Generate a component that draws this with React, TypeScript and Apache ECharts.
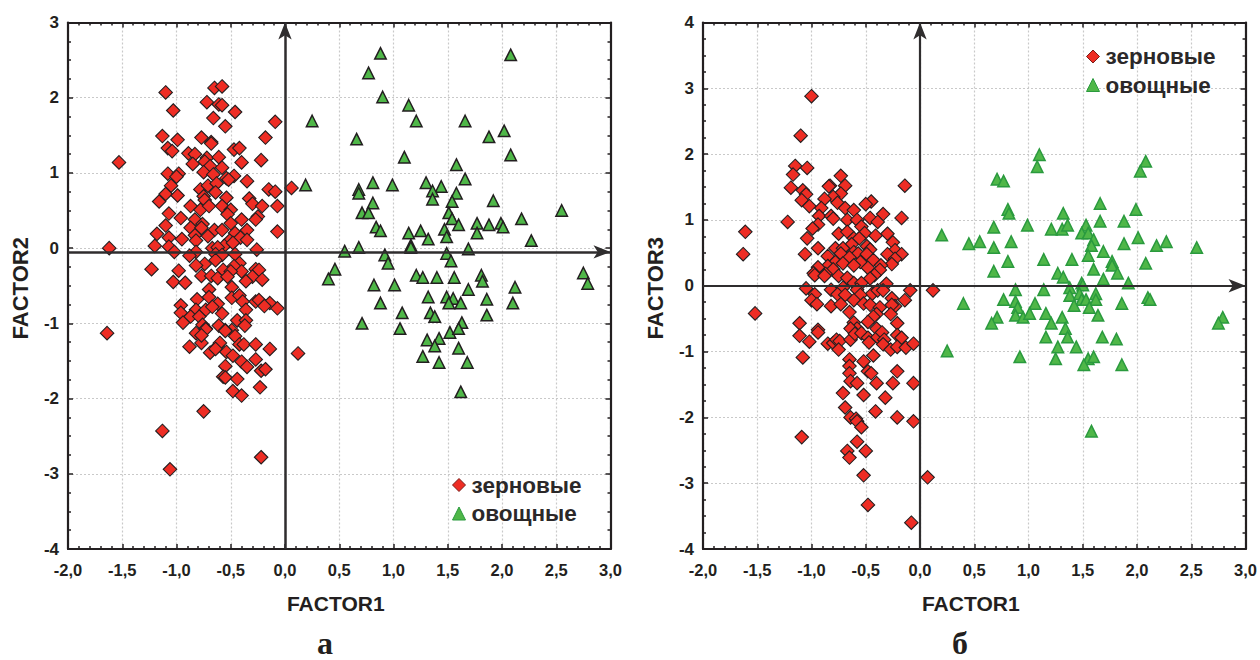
import React, { useEffect, useRef } from "react";
import * as echarts from "echarts";

const grainA: number[][] = [
[-1.62,0],[-1.53,1.14],[-1.10,2.07],[-1.03,1.83],[-0.65,2.13],[-0.58,2.15],[-0.72,1.94],[-0.61,1.91],[-0.58,1.90],[-0.46,1.81],[-0.66,1.73],[-0.55,1.62],[-0.09,1.68],[-1.13,1.49],[-0.99,1.44],[-0.77,1.47],[-0.68,1.41],[-0.68,1.39],[-0.18,1.47],[-1.08,1.33],[-1.04,1.29],[-0.89,1.26],[-0.83,1.25],[-0.47,1.31],[-0.42,1.33],[-0.22,1.17],[-0.85,1.12],[-0.72,1.20],[-0.61,1.21],[-0.74,1.15],[-0.69,1.09],[-0.58,1.07],[-0.40,1.14],[-1.08,0.99],[-0.98,0.99],[-1.00,0.95],[-0.75,1.01],[-0.66,0.98],[-0.54,0.93],[-0.47,0.96],[-0.52,0.91],[-0.35,0.89],[-1.05,0.83],[-1.10,0.72],[-0.99,0.70],[-1.16,0.62],[-0.78,0.78],[-0.71,0.83],[-0.63,0.86],[-0.64,0.74],[-0.75,0.69],[-0.74,0.64],[-0.15,0.78],[-0.09,0.75],[0.06,0.80],[-0.54,0.67],[-0.33,0.66],[-0.30,0.59],[-0.21,0.56],[-0.07,0.56],[-0.87,0.56],[-0.78,0.51],[-0.70,0.56],[-0.58,0.56],[-0.50,0.51],[-0.53,0.45],[-1.07,0.46],[-0.96,0.40],[-0.83,0.38],[-0.25,0.42],[-0.27,0.38],[-0.40,0.38],[-0.50,0.33],[-0.76,0.32],[-1.10,0.30],[-0.87,0.27],[-0.77,0.27],[-0.07,0.22],[-0.35,0.24],[-0.65,0.24],[-0.58,0.24],[-1.18,0.19],[-0.46,0.20],[-0.83,0.17],[-0.71,0.16],[-1.07,0.14],[-0.95,0.12],[-0.82,0.10],[-0.41,0.14],[-0.35,0.11],[-0.51,0.10],[-1.20,0.03],[-1.07,0.02],[-0.56,0.03],[-0.67,0],[-0.62,0.01],[-0.48,0.07],[-0.26,-0.02],[-1.02,-0.05],[-0.82,-0.05],[-0.88,-0.10],[-0.64,-0.08],[-0.58,-0.09],[-0.46,-0.08],[-0.64,-0.16],[-0.74,-0.21],[-0.82,-0.23],[-0.42,-0.20],[-0.47,-0.24],[-1.23,-0.28],[-0.98,-0.30],[-0.57,-0.29],[-0.40,-0.31],[-0.50,-0.31],[-0.77,-0.37],[-0.68,-0.37],[-0.27,-0.28],[-0.24,-0.29],[-0.62,-0.40],[-0.53,-0.38],[-0.30,-0.38],[-0.21,-0.42],[-0.36,-0.44],[-1.03,-0.45],[-0.92,-0.46],[-0.70,-0.55],[-0.49,-0.52],[-0.81,-0.68],[-0.70,-0.65],[-0.49,-0.66],[-0.42,-0.63],[-0.27,-0.71],[-0.24,-0.69],[-0.14,-0.73],[-0.07,-0.80],[-0.19,-0.77],[-0.96,-0.76],[-0.62,-0.74],[-0.39,-0.71],[-0.82,-0.82],[-0.73,-0.82],[-0.67,-0.78],[-0.36,-0.82],[-0.96,-0.86],[-0.58,-0.87],[-0.87,-0.91],[-0.79,-0.91],[-0.94,-0.99],[-0.44,-0.96],[-0.36,-0.96],[-0.76,-1.02],[-0.61,-1.03],[-0.73,-1.07],[-0.37,-1.03],[-0.49,-1.09],[-0.55,-1.09],
[-1.64,-1.13],[-0.82,-1.13],[-0.73,-1.08],[-0.55,-1.10],[-0.77,-1.26],[-0.77,-1.16],[-0.88,-1.31],[-0.69,-1.39],[-0.62,-1.30],[-0.60,-1.26],[-0.64,-1.34],[-0.54,-1.38],[-0.46,-1.17],[-0.42,-1.28],[-0.38,-1.28],[-0.27,-1.28],[-0.14,-1.34],[0.12,-1.40],[-0.48,-1.43],[-0.27,-1.48],[-0.40,-1.51],[-0.35,-1.58],[-0.55,-1.57],[-0.22,-1.63],[-0.18,-1.61],[-0.57,-1.71],[-0.55,-1.72],[-0.44,-1.74],[-0.23,-1.85],[-0.48,-1.90],[-0.40,-1.96],[-0.75,-2.17],[-1.13,-2.43],[-1.06,-2.94],[-0.22,-2.78]
];

const vegA: number[][] = [
[0.88,2.59],[2.08,2.57],[0.77,2.33],[0.90,2.01],[1.14,1.90],[0.25,1.69],[1.21,1.69],[1.66,1.69],[2.02,1.56],[1.88,1.48],[0.66,1.45],[2.08,1.24],[1.10,1.21],[1.58,1.11],[1.66,0.92],[0.19,0.84],[0.68,0.78],[0.68,0.73],[0.81,0.87],[0.99,0.84],[1.30,0.87],[1.44,0.82],[1.36,0.76],[1.36,0.65],[1.58,0.73],[1.54,0.62],[1.92,0.63],[0.81,0.60],[2.55,0.50],[0.71,0.47],[0.77,0.47],[1.51,0.47],[1.54,0.39],[2.18,0.39],[1.77,0.33],[1.60,0.31],[1.88,0.31],[1.99,0.33],[2.01,0.28],[0.84,0.28],[0.88,0.23],[1.14,0.20],[1.25,0.23],[1.47,0.25],[1.77,0.20],[1.32,0.12],[1.49,0.15],[2.27,0.10],[1.16,0.04],[1.16,0.01],[0.68,0.01],[0.55,-0.04],[1.49,-0.07],[1.69,-0.01],[0.92,-0.09],[0.95,-0.20],[1.53,-0.17],[0.46,-0.28],[0.40,-0.41],[1.21,-0.36],[1.27,-0.39],[1.40,-0.39],[1.56,-0.39],[1.81,-0.36],[1.82,-0.44],[0.82,-0.49],[1.01,-0.49],[1.69,-0.55],[2.12,-0.52],[2.75,-0.33],[2.79,-0.47],[1.32,-0.65],[1.49,-0.65],[1.55,-0.67],[1.51,-0.73],[1.62,-0.73],[1.86,-0.68],[0.88,-0.73],[2.10,-0.73],[1.08,-0.86],[1.34,-0.86],[1.38,-0.91],[1.86,-0.89],[0.71,-1.00],[1.63,-0.99],[1.06,-1.07],[1.52,-1.12],[1.60,-1.07],[1.31,-1.22],[1.42,-1.20],[1.38,-1.30],[1.60,-1.33],[1.27,-1.44],[1.42,-1.52],[1.68,-1.52],[1.62,-1.91]
];

const grainB: number[][] = [
[-1.00,2.88],[-1.10,2.28],[-1.15,1.82],[-1.04,1.79],[-1.17,1.69],[-0.73,1.67],[-0.14,1.52],[-1.19,1.49],[-0.83,1.52],[-0.84,1.51],[-0.69,1.52],[-1.08,1.45],[-1.05,1.39],[-0.73,1.40],[-0.80,1.35],[-0.88,1.32],[-1.09,1.30],[-0.76,1.26],[-1.02,1.21],[-0.45,1.28],[-0.50,1.24],[-0.91,1.18],[-0.69,1.18],[-0.61,1.15],[-0.34,1.09],[-0.93,1.06],[-0.82,1.06],[-0.80,1.02],[-0.67,1.00],[-0.58,1.00],[-0.46,1.03],[-0.39,0.97],[-0.17,1.03],[-1.22,0.97],[-0.54,0.90],[-0.94,0.93],[-0.99,0.87],[-1.61,0.82],[-0.75,0.79],[-0.67,0.82],[-0.51,0.80],[-0.30,0.79],[-0.41,0.76],[-1.04,0.72],[-0.61,0.72],[-0.56,0.72],[-0.25,0.66],[-0.63,0.63],[-0.49,0.60],[-0.46,0.55],[-0.94,0.57],[-0.78,0.57],[-0.71,0.57],[-0.23,0.54],[-1.63,0.48],[-1.06,0.48],[-0.85,0.45],[-0.73,0.49],[-0.61,0.51],[-0.57,0.49],[-0.49,0.48],[-0.30,0.48],[-0.17,0.48],[-0.23,0.41],[-0.65,0.43],[-0.43,0.39],[-0.55,0.36],[-0.78,0.36],[-0.71,0.34],[-0.61,0.31],[-0.26,0.33],[-0.36,0.31],[-0.85,0.30],[-0.94,0.28],[-0.80,0.25],[-0.48,0.27],[-0.37,0.24],[-0.98,0.19],[-0.87,0.18],[-0.97,0.16],[-0.88,0.15],[-0.75,0.15],[-0.42,0.16],[-0.67,0.12],[-0.46,0.11],[-0.61,0.04],[-0.54,0.04],[-0.31,0.03],[-1.05,-0.04],[-0.82,-0.06],[-0.71,-0.03],[-0.58,-0.06],[-0.09,-0.07],[0.12,-0.07],[-0.44,-0.12],[-0.39,-0.07],[-0.34,-0.07],[-0.97,-0.13],[-0.76,-0.13],[-0.69,-0.14],[-0.55,-0.14],[-0.61,-0.22],[-0.26,-0.19],[-0.14,-0.22],[-1.00,-0.22],[-0.95,-0.28],[-0.82,-0.31],[-0.73,-0.28],[-0.52,-0.27],[-0.46,-0.29],[-0.23,-0.31],[-0.26,-0.29],[-0.37,-0.33],[-1.52,-0.42],[-0.65,-0.40],[-0.27,-0.43],[-0.40,-0.43],[-0.43,-0.47],[-0.48,-0.55],[-0.61,-0.56],[-1.11,-0.57],[-0.21,-0.57],[-0.94,-0.67],[-0.58,-0.65],[-0.64,-0.65],[-0.40,-0.65],
[-1.11,-0.76],[-1.02,-0.85],[-0.94,-0.71],[-0.85,-0.88],[-0.80,-0.87],[-0.77,-0.82],[-0.74,-0.84],[-0.75,-0.97],[-0.64,-0.82],[-0.60,-0.73],[-0.54,-0.72],[-0.48,-0.79],[-0.47,-0.86],[-0.39,-0.78],[-0.35,-0.71],[-0.33,-0.82],[-0.34,-0.89],[-0.27,-0.97],[-0.21,-0.75],[-0.17,-0.79],[-0.21,-0.93],[-0.13,-0.94],[-0.06,-0.88],[-1.08,-1.09],[-0.43,-1.06],[-0.52,-1.15],[-0.65,-1.12],[-0.65,-1.22],[-0.65,-1.33],[-0.48,-1.30],[-0.45,-1.33],[-0.21,-1.30],[-0.64,-1.45],[-0.58,-1.48],[-0.40,-1.48],[-0.25,-1.48],[-0.06,-1.48],[-0.71,-1.63],[-0.52,-1.66],[-0.32,-1.70],[-0.69,-1.85],[-0.41,-1.91],[-0.64,-2.00],[-0.21,-2.00],[-0.59,-2.02],[-0.58,-2.06],[-0.06,-2.06],[-0.54,-2.15],[-1.09,-2.30],[-0.58,-2.37],[-0.67,-2.51],[-0.50,-2.51],[-0.65,-2.61],[-0.52,-2.88],[0.07,-2.91],[-0.48,-3.33],[-0.08,-3.60]
];

const vegB: number[][] = [
[1.10,1.99],[1.08,1.81],[2.08,1.89],[2.03,1.74],[0.71,1.62],[0.77,1.59],[0.81,1.16],[0.82,1.10],[1.66,1.25],[1.32,1.10],[1.99,1.16],[1.66,0.98],[1.88,0.98],[0.68,0.89],[0.99,0.92],[1.21,0.86],[1.31,0.86],[1.36,0.92],[1.53,0.92],[1.49,0.80],[1.55,0.80],[1.60,0.70],[0.20,0.77],[0.45,0.64],[0.55,0.67],[0.84,0.67],[0.68,0.58],[1.58,0.61],[1.88,0.64],[2.01,0.73],[2.18,0.61],[2.27,0.67],[2.55,0.58],[1.55,0.46],[1.69,0.52],[1.14,0.40],[1.40,0.40],[0.81,0.37],[1.77,0.37],[1.77,0.31],[2.08,0.34],[0.68,0.22],[1.60,0.25],[1.27,0.19],[1.32,0.13],[1.82,0.19],[1.69,0.10],[1.49,0.04],[1.92,0.04],[0.88,-0.06],[1.14,-0.06],[1.38,-0.03],[1.50,0.01],[1.47,-0.12],[1.38,-0.15],[1.62,-0.12],[0.77,-0.21],[0.88,-0.24],[1.06,-0.27],[0.40,-0.27],[1.49,-0.21],[1.53,-0.21],[1.62,-0.21],[1.42,-0.30],[1.86,-0.27],[2.10,-0.18],[2.12,-0.21],[1.56,-0.33],[0.90,-0.33],[0.88,-0.45],[0.95,-0.48],[1.01,-0.42],[1.16,-0.42],[1.31,-0.48],[1.64,-0.45],[0.71,-0.48],[0.66,-0.57],[1.21,-0.57],[2.79,-0.48],[2.75,-0.57],[1.34,-0.65],
[0.25,-0.99],[0.92,-1.08],[1.16,-0.78],[1.27,-0.93],[1.36,-0.78],[1.25,-1.11],[1.44,-0.93],[1.68,-0.78],[1.81,-0.81],[1.55,-1.11],[1.60,-1.08],[1.51,-1.20],[1.86,-1.20],[1.58,-2.21]
];

const GRAIN = "зерновые";
const VEG = "овощные";
const xAxisName = "FACTOR1";
const yNameA = "FACTOR2";
const yNameB = "FACTOR3";
const captions = ["а", "б"];

const INK = "#231f20";
const FONT = "'Liberation Sans', Arial, sans-serif";
const RED = "#ee2d24";
const GREEN = "#4fb748";
const GREEN_EDGE = "#2a9a3e";

const splitLine = { show: true, lineStyle: { color: "#c9c9c9", width: 1.2, type: [2, 2] as number[] } };

function xAxes(gridIndex: number) {
  const base = {
    type: "value", gridIndex, min: -2, max: 3, interval: 0.5,
    axisLine: { show: true, onZero: false, lineStyle: { color: INK, width: 2.2 } },
    axisTick: { show: true, inside: true, length: 5, lineStyle: { color: INK, width: 1.5 } },
    minorTick: { show: true, splitNumber: 5, length: 3, lineStyle: { color: INK, width: 1.5 } },
  };
  return [
    {
      ...base, position: "bottom", name: xAxisName, nameLocation: "middle", nameGap: 44,
      nameTextStyle: { color: INK, fontFamily: FONT, fontWeight: "bold", fontSize: 21, padding: [0, 7, 0, 0] },
      splitLine,
      axisLabel: {
        color: INK, fontFamily: FONT, fontWeight: "bold", fontSize: 16.5, margin: 12,
        showMinLabel: true, showMaxLabel: true, hideOverlap: false,
        formatter: (v: number) => v.toFixed(1).replace(".", ","),
      },
    },
    { ...base, position: "top", splitLine: { show: false }, axisLabel: { show: false } },
  ];
}

function yAxes(gridIndex: number, min: number, max: number, name: string) {
  const base = {
    type: "value", gridIndex, min, max, interval: 1,
    axisLine: { show: true, onZero: false, lineStyle: { color: INK, width: 2.2 } },
    axisTick: { show: true, inside: true, length: 5, lineStyle: { color: INK, width: 1.5 } },
    minorTick: { show: true, splitNumber: 4, length: 3, lineStyle: { color: INK, width: 1.5 } },
  };
  return [
    {
      ...base, position: "left", name, nameLocation: "middle", nameGap: 36.5,
      nameTextStyle: { color: INK, fontFamily: FONT, fontWeight: "bold", fontSize: 22, padding: [0, 5, 0, 0] },
      splitLine,
      axisLabel: {
        color: INK, fontFamily: FONT, fontWeight: "bold", fontSize: 17, margin: 9,
        showMinLabel: true, showMaxLabel: true, hideOverlap: false,
        formatter: (v: number) => String(v),
      },
    },
    { ...base, position: "right", splitLine: { show: false }, axisLabel: { show: false } },
  ];
}

function arrows(yLine: number, yTop: number, xEnd: number, yMin: number, width: number) {
  return {
    silent: true, animation: false, z: 6,
    precision: 4,
    label: { show: false },
    lineStyle: { color: "#2f2d2e", width, type: "solid" },
    symbol: ["none", "arrow"],
    symbolSize: [10, 17],
    data: [
      [{ coord: [-2, yLine] }, { coord: [xEnd, yLine] }],
      [{ coord: [0, yMin] }, { coord: [0, yTop] }],
    ],
  };
}

function scatter(name: string, xAxisIndex: number, yAxisIndex: number, data: number[][], kind: string, edge: string, markLine?: any) {
  return {
    type: "scatter", name, xAxisIndex, yAxisIndex, data, z: 3,
    symbol: kind,
    symbolSize: kind === "diamond" ? 13.5 : [11.5, 11.5],
    itemStyle: {
      color: kind === "diamond" ? RED : GREEN,
      borderColor: edge, borderWidth: kind === "diamond" ? 1.1 : 1.5, opacity: 1,
    },
    ...(markLine ? { markLine } : {}),
  };
}

function legendFor(left: number, top: number) {
  return {
    left, top, orient: "vertical", itemWidth: 13, itemHeight: 13, itemGap: 5.5, padding: 0,
    selectedMode: false,
    textStyle: { color: "#2b2829", fontFamily: FONT, fontWeight: "bold", fontSize: 22.5, padding: [0, 0, 0, 1] },
    data: [
      { name: GRAIN, icon: "diamond", itemStyle: { color: RED, borderColor: "#7a1c18", borderWidth: 1 } },
      { name: VEG, icon: "triangle", itemStyle: { color: GREEN, borderColor: GREEN_EDGE, borderWidth: 1 } },
    ],
  };
}

const captionStyle = { color: INK, fontFamily: "'Liberation Serif', serif", fontWeight: "bold", fontSize: 32 };

export default function App() {
  const ref = useRef<HTMLDivElement>(null);
  useEffect(() => {
    const chart = echarts.init(ref.current!, undefined, { renderer: "svg" });
    chart.setOption({
      animation: false,
      backgroundColor: "#ffffff",
      title: [
        { text: captions[0], left: 317, top: 627, padding: 0, textStyle: captionStyle },
        { text: captions[1], left: 952, top: 627, padding: 0, textStyle: captionStyle },
      ],
      legend: [legendFor(452, 473.5), legendFor(1086, 45)],
      grid: [
        { left: 68, top: 22.5, width: 542.5, height: 526.5 },
        { left: 703, top: 22.5, width: 543, height: 526.5 },
      ],
      xAxis: [...xAxes(0), ...xAxes(1)],
      yAxis: [...yAxes(0, -4, 3, yNameA), ...yAxes(1, -4, 4, yNameB)],
      series: [
        scatter(GRAIN, 0, 0, grainA, "diamond", INK, arrows(-0.05, 3, 3, -4, 2.5)),
        scatter(VEG, 0, 0, vegA, "triangle", INK),
        scatter(GRAIN, 2, 2, grainB, "diamond", INK, arrows(0, 4, 3, -4, 2.2)),
        scatter(VEG, 2, 2, vegB, "triangle", GREEN_EDGE),
      ],
    });
    return () => chart.dispose();
  }, []);
  return <div ref={ref} style={{ position: "absolute", left: 0, top: 0, width: 1260, height: 660 }} />;
}
